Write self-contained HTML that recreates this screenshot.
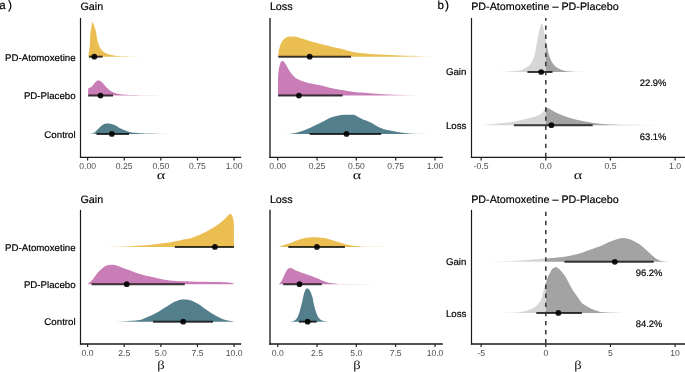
<!DOCTYPE html>
<html><head><meta charset="utf-8"><style>
html,body{margin:0;padding:0;background:#fff;width:685px;height:372px;overflow:hidden}
svg{display:block;will-change:transform}
text{text-rendering:geometricPrecision}
</style></head><body>
<svg width="685" height="372" viewBox="0 0 685 372">
<defs><linearGradient id="g1" gradientUnits="userSpaceOnUse" x1="88.20" y1="0" x2="147.00" y2="0"><stop offset="0.0000" stop-color="#EBBE51" stop-opacity="1.000"/><stop offset="0.4728" stop-color="#EBBE51" stop-opacity="1.000"/><stop offset="0.6310" stop-color="#EBBE51" stop-opacity="0.800"/><stop offset="0.7628" stop-color="#EBBE51" stop-opacity="0.500"/><stop offset="0.8946" stop-color="#EBBE51" stop-opacity="0.200"/><stop offset="1.0000" stop-color="#EBBE51" stop-opacity="0.000"/></linearGradient>
<linearGradient id="g2" gradientUnits="userSpaceOnUse" x1="88.20" y1="0" x2="174.00" y2="0"><stop offset="0.0000" stop-color="#C97DB6" stop-opacity="1.000"/><stop offset="0.4172" stop-color="#C97DB6" stop-opacity="1.000"/><stop offset="0.5921" stop-color="#C97DB6" stop-opacity="0.800"/><stop offset="0.7378" stop-color="#C97DB6" stop-opacity="0.500"/><stop offset="0.8834" stop-color="#C97DB6" stop-opacity="0.200"/><stop offset="1.0000" stop-color="#C97DB6" stop-opacity="0.000"/></linearGradient>
<linearGradient id="g3" gradientUnits="userSpaceOnUse" x1="88.00" y1="0" x2="174.00" y2="0"><stop offset="0.0000" stop-color="#537F8C" stop-opacity="0.000"/><stop offset="0.0209" stop-color="#537F8C" stop-opacity="0.200"/><stop offset="0.0471" stop-color="#537F8C" stop-opacity="0.500"/><stop offset="0.0733" stop-color="#537F8C" stop-opacity="0.800"/><stop offset="0.1047" stop-color="#537F8C" stop-opacity="1.000"/><stop offset="0.5581" stop-color="#537F8C" stop-opacity="1.000"/><stop offset="0.6907" stop-color="#537F8C" stop-opacity="0.800"/><stop offset="0.8012" stop-color="#537F8C" stop-opacity="0.500"/><stop offset="0.9116" stop-color="#537F8C" stop-opacity="0.200"/><stop offset="1.0000" stop-color="#537F8C" stop-opacity="0.000"/></linearGradient>
<linearGradient id="g4" gradientUnits="userSpaceOnUse" x1="278.30" y1="0" x2="436.00" y2="0"><stop offset="0.0000" stop-color="#EBBE51" stop-opacity="1.000"/><stop offset="0.7590" stop-color="#EBBE51" stop-opacity="1.000"/><stop offset="0.8313" stop-color="#EBBE51" stop-opacity="0.800"/><stop offset="0.8916" stop-color="#EBBE51" stop-opacity="0.500"/><stop offset="0.9518" stop-color="#EBBE51" stop-opacity="0.200"/><stop offset="1.0000" stop-color="#EBBE51" stop-opacity="0.000"/></linearGradient>
<linearGradient id="g5" gradientUnits="userSpaceOnUse" x1="278.00" y1="0" x2="424.00" y2="0"><stop offset="0.0000" stop-color="#C97DB6" stop-opacity="1.000"/><stop offset="0.6712" stop-color="#C97DB6" stop-opacity="1.000"/><stop offset="0.7699" stop-color="#C97DB6" stop-opacity="0.800"/><stop offset="0.8521" stop-color="#C97DB6" stop-opacity="0.500"/><stop offset="0.9342" stop-color="#C97DB6" stop-opacity="0.200"/><stop offset="1.0000" stop-color="#C97DB6" stop-opacity="0.000"/></linearGradient>
<linearGradient id="g6" gradientUnits="userSpaceOnUse" x1="283.00" y1="0" x2="432.00" y2="0"><stop offset="0.0000" stop-color="#537F8C" stop-opacity="0.000"/><stop offset="0.0188" stop-color="#537F8C" stop-opacity="0.200"/><stop offset="0.0423" stop-color="#537F8C" stop-opacity="0.500"/><stop offset="0.0658" stop-color="#537F8C" stop-opacity="0.800"/><stop offset="0.0940" stop-color="#537F8C" stop-opacity="1.000"/><stop offset="0.7987" stop-color="#537F8C" stop-opacity="1.000"/><stop offset="0.8591" stop-color="#537F8C" stop-opacity="0.800"/><stop offset="0.9094" stop-color="#537F8C" stop-opacity="0.500"/><stop offset="0.9597" stop-color="#537F8C" stop-opacity="0.200"/><stop offset="1.0000" stop-color="#537F8C" stop-opacity="0.000"/></linearGradient>
<linearGradient id="g7" gradientUnits="userSpaceOnUse" x1="496.00" y1="0" x2="590.00" y2="0"><stop offset="0.0000" stop-color="#D6D6D6" stop-opacity="0.000"/><stop offset="0.0511" stop-color="#D6D6D6" stop-opacity="0.200"/><stop offset="0.1149" stop-color="#D6D6D6" stop-opacity="0.500"/><stop offset="0.1787" stop-color="#D6D6D6" stop-opacity="0.800"/><stop offset="0.2553" stop-color="#D6D6D6" stop-opacity="1.000"/><stop offset="0.5298" stop-color="#D6D6D6" stop-opacity="1.000"/><stop offset="0.5298" stop-color="#A3A3A3" stop-opacity="1.000"/><stop offset="0.7447" stop-color="#A3A3A3" stop-opacity="1.000"/><stop offset="0.8213" stop-color="#A3A3A3" stop-opacity="0.800"/><stop offset="0.8851" stop-color="#A3A3A3" stop-opacity="0.500"/><stop offset="0.9489" stop-color="#A3A3A3" stop-opacity="0.200"/><stop offset="1.0000" stop-color="#A3A3A3" stop-opacity="0.000"/></linearGradient>
<linearGradient id="g8" gradientUnits="userSpaceOnUse" x1="476.00" y1="0" x2="662.00" y2="0"><stop offset="0.0000" stop-color="#D6D6D6" stop-opacity="0.000"/><stop offset="0.0258" stop-color="#D6D6D6" stop-opacity="0.200"/><stop offset="0.0581" stop-color="#D6D6D6" stop-opacity="0.500"/><stop offset="0.0903" stop-color="#D6D6D6" stop-opacity="0.800"/><stop offset="0.1290" stop-color="#D6D6D6" stop-opacity="1.000"/><stop offset="0.3753" stop-color="#D6D6D6" stop-opacity="1.000"/><stop offset="0.3753" stop-color="#A3A3A3" stop-opacity="1.000"/><stop offset="0.6774" stop-color="#A3A3A3" stop-opacity="1.000"/><stop offset="0.7774" stop-color="#A3A3A3" stop-opacity="0.800"/><stop offset="0.8608" stop-color="#A3A3A3" stop-opacity="0.500"/><stop offset="0.9441" stop-color="#A3A3A3" stop-opacity="0.200"/><stop offset="1.0000" stop-color="#A3A3A3" stop-opacity="0.032"/><stop offset="1.0000" stop-color="#A3A3A3" stop-opacity="0.000"/></linearGradient>
<linearGradient id="g9" gradientUnits="userSpaceOnUse" x1="98.00" y1="0" x2="234.00" y2="0"><stop offset="0.0000" stop-color="#EBBE51" stop-opacity="0.000"/><stop offset="0.0618" stop-color="#EBBE51" stop-opacity="0.200"/><stop offset="0.1390" stop-color="#EBBE51" stop-opacity="0.500"/><stop offset="0.2162" stop-color="#EBBE51" stop-opacity="0.800"/><stop offset="0.3088" stop-color="#EBBE51" stop-opacity="1.000"/><stop offset="1.0000" stop-color="#EBBE51" stop-opacity="1.000"/></linearGradient>
<linearGradient id="g10" gradientUnits="userSpaceOnUse" x1="108.00" y1="0" x2="233.50" y2="0"><stop offset="0.0000" stop-color="#537F8C" stop-opacity="0.000"/><stop offset="0.0478" stop-color="#537F8C" stop-opacity="0.200"/><stop offset="0.1076" stop-color="#537F8C" stop-opacity="0.500"/><stop offset="0.1673" stop-color="#537F8C" stop-opacity="0.800"/><stop offset="0.2390" stop-color="#537F8C" stop-opacity="1.000"/><stop offset="1.0000" stop-color="#537F8C" stop-opacity="1.000"/></linearGradient>
<linearGradient id="g11" gradientUnits="userSpaceOnUse" x1="277.50" y1="0" x2="398.00" y2="0"><stop offset="0.0000" stop-color="#EBBE51" stop-opacity="0.000"/><stop offset="0.0108" stop-color="#EBBE51" stop-opacity="0.200"/><stop offset="0.0243" stop-color="#EBBE51" stop-opacity="0.500"/><stop offset="0.0378" stop-color="#EBBE51" stop-opacity="0.800"/><stop offset="0.0539" stop-color="#EBBE51" stop-opacity="1.000"/><stop offset="0.6515" stop-color="#EBBE51" stop-opacity="1.000"/><stop offset="0.7560" stop-color="#EBBE51" stop-opacity="0.800"/><stop offset="0.8432" stop-color="#EBBE51" stop-opacity="0.500"/><stop offset="0.9303" stop-color="#EBBE51" stop-opacity="0.200"/><stop offset="1.0000" stop-color="#EBBE51" stop-opacity="0.000"/></linearGradient>
<linearGradient id="g12" gradientUnits="userSpaceOnUse" x1="278.50" y1="0" x2="380.00" y2="0"><stop offset="0.0000" stop-color="#C97DB6" stop-opacity="1.000"/><stop offset="0.5271" stop-color="#C97DB6" stop-opacity="1.000"/><stop offset="0.6690" stop-color="#C97DB6" stop-opacity="0.800"/><stop offset="0.7872" stop-color="#C97DB6" stop-opacity="0.500"/><stop offset="0.9054" stop-color="#C97DB6" stop-opacity="0.200"/><stop offset="1.0000" stop-color="#C97DB6" stop-opacity="0.000"/></linearGradient>
<linearGradient id="g13" gradientUnits="userSpaceOnUse" x1="286.00" y1="0" x2="336.00" y2="0"><stop offset="0.0000" stop-color="#537F8C" stop-opacity="0.000"/><stop offset="0.0360" stop-color="#537F8C" stop-opacity="0.200"/><stop offset="0.0810" stop-color="#537F8C" stop-opacity="0.500"/><stop offset="0.1260" stop-color="#537F8C" stop-opacity="0.800"/><stop offset="0.1800" stop-color="#537F8C" stop-opacity="1.000"/><stop offset="0.7200" stop-color="#537F8C" stop-opacity="1.000"/><stop offset="0.8040" stop-color="#537F8C" stop-opacity="0.800"/><stop offset="0.8740" stop-color="#537F8C" stop-opacity="0.500"/><stop offset="0.9440" stop-color="#537F8C" stop-opacity="0.200"/><stop offset="1.0000" stop-color="#537F8C" stop-opacity="0.000"/></linearGradient>
<linearGradient id="g14" gradientUnits="userSpaceOnUse" x1="478.00" y1="0" x2="670.00" y2="0"><stop offset="0.0000" stop-color="#D6D6D6" stop-opacity="0.000"/><stop offset="0.0542" stop-color="#D6D6D6" stop-opacity="0.200"/><stop offset="0.1219" stop-color="#D6D6D6" stop-opacity="0.500"/><stop offset="0.1896" stop-color="#D6D6D6" stop-opacity="0.800"/><stop offset="0.2708" stop-color="#D6D6D6" stop-opacity="1.000"/><stop offset="0.3531" stop-color="#D6D6D6" stop-opacity="1.000"/><stop offset="0.3531" stop-color="#A3A3A3" stop-opacity="1.000"/><stop offset="1.0000" stop-color="#A3A3A3" stop-opacity="1.000"/></linearGradient>
<linearGradient id="g15" gradientUnits="userSpaceOnUse" x1="494.00" y1="0" x2="630.00" y2="0"><stop offset="0.0000" stop-color="#D6D6D6" stop-opacity="0.000"/><stop offset="0.0412" stop-color="#D6D6D6" stop-opacity="0.200"/><stop offset="0.0926" stop-color="#D6D6D6" stop-opacity="0.500"/><stop offset="0.1441" stop-color="#D6D6D6" stop-opacity="0.800"/><stop offset="0.2059" stop-color="#D6D6D6" stop-opacity="1.000"/><stop offset="0.3809" stop-color="#D6D6D6" stop-opacity="1.000"/><stop offset="0.3809" stop-color="#A3A3A3" stop-opacity="1.000"/><stop offset="0.7794" stop-color="#A3A3A3" stop-opacity="1.000"/><stop offset="0.8456" stop-color="#A3A3A3" stop-opacity="0.800"/><stop offset="0.9007" stop-color="#A3A3A3" stop-opacity="0.500"/><stop offset="0.9559" stop-color="#A3A3A3" stop-opacity="0.200"/><stop offset="1.0000" stop-color="#A3A3A3" stop-opacity="0.000"/></linearGradient></defs>
<rect width="685" height="372" fill="#fff"/>
<line x1="80.50" y1="17.90" x2="80.50" y2="158.00" stroke="#1a1a1a" stroke-width="1.20"/>
<line x1="79.90" y1="157.40" x2="241.20" y2="157.40" stroke="#1a1a1a" stroke-width="1.20"/>
<line x1="87.60" y1="157.40" x2="87.60" y2="160.50" stroke="#222" stroke-width="1.2"/>
<text x="87.60" y="169.00" font-family="Liberation Sans" font-size="8.60" fill="#4d4d4d" text-anchor="middle" >0.00</text>
<line x1="124.22" y1="157.40" x2="124.22" y2="160.50" stroke="#222" stroke-width="1.2"/>
<text x="124.22" y="169.00" font-family="Liberation Sans" font-size="8.60" fill="#4d4d4d" text-anchor="middle" >0.25</text>
<line x1="160.85" y1="157.40" x2="160.85" y2="160.50" stroke="#222" stroke-width="1.2"/>
<text x="160.85" y="169.00" font-family="Liberation Sans" font-size="8.60" fill="#4d4d4d" text-anchor="middle" >0.50</text>
<line x1="197.47" y1="157.40" x2="197.47" y2="160.50" stroke="#222" stroke-width="1.2"/>
<text x="197.47" y="169.00" font-family="Liberation Sans" font-size="8.60" fill="#4d4d4d" text-anchor="middle" >0.75</text>
<line x1="234.10" y1="157.40" x2="234.10" y2="160.50" stroke="#222" stroke-width="1.2"/>
<text x="234.10" y="169.00" font-family="Liberation Sans" font-size="8.60" fill="#4d4d4d" text-anchor="middle" >1.00</text>
<line x1="270.00" y1="17.90" x2="270.00" y2="158.00" stroke="#1a1a1a" stroke-width="1.35"/>
<line x1="269.32" y1="157.40" x2="442.80" y2="157.40" stroke="#1a1a1a" stroke-width="1.20"/>
<line x1="277.70" y1="157.40" x2="277.70" y2="160.50" stroke="#222" stroke-width="1.2"/>
<text x="277.70" y="169.00" font-family="Liberation Sans" font-size="8.60" fill="#4d4d4d" text-anchor="middle" >0.00</text>
<line x1="317.02" y1="157.40" x2="317.02" y2="160.50" stroke="#222" stroke-width="1.2"/>
<text x="317.02" y="169.00" font-family="Liberation Sans" font-size="8.60" fill="#4d4d4d" text-anchor="middle" >0.25</text>
<line x1="356.35" y1="157.40" x2="356.35" y2="160.50" stroke="#222" stroke-width="1.2"/>
<text x="356.35" y="169.00" font-family="Liberation Sans" font-size="8.60" fill="#4d4d4d" text-anchor="middle" >0.50</text>
<line x1="395.68" y1="157.40" x2="395.68" y2="160.50" stroke="#222" stroke-width="1.2"/>
<text x="395.68" y="169.00" font-family="Liberation Sans" font-size="8.60" fill="#4d4d4d" text-anchor="middle" >0.75</text>
<line x1="435.00" y1="157.40" x2="435.00" y2="160.50" stroke="#222" stroke-width="1.2"/>
<text x="435.00" y="169.00" font-family="Liberation Sans" font-size="8.60" fill="#4d4d4d" text-anchor="middle" >1.00</text>
<line x1="471.50" y1="17.90" x2="471.50" y2="158.00" stroke="#1a1a1a" stroke-width="1.20"/>
<line x1="470.90" y1="157.40" x2="685.00" y2="157.40" stroke="#1a1a1a" stroke-width="1.20"/>
<line x1="481.15" y1="157.40" x2="481.15" y2="160.50" stroke="#222" stroke-width="1.2"/>
<text x="481.15" y="169.00" font-family="Liberation Sans" font-size="8.60" fill="#4d4d4d" text-anchor="middle" >-0.5</text>
<line x1="545.80" y1="157.40" x2="545.80" y2="160.50" stroke="#222" stroke-width="1.2"/>
<text x="545.80" y="169.00" font-family="Liberation Sans" font-size="8.60" fill="#4d4d4d" text-anchor="middle" >0.0</text>
<line x1="610.45" y1="157.40" x2="610.45" y2="160.50" stroke="#222" stroke-width="1.2"/>
<text x="610.45" y="169.00" font-family="Liberation Sans" font-size="8.60" fill="#4d4d4d" text-anchor="middle" >0.5</text>
<line x1="675.10" y1="157.40" x2="675.10" y2="160.50" stroke="#222" stroke-width="1.2"/>
<text x="675.10" y="169.00" font-family="Liberation Sans" font-size="8.60" fill="#4d4d4d" text-anchor="middle" >1.0</text>
<line x1="80.50" y1="209.80" x2="80.50" y2="344.65" stroke="#1a1a1a" stroke-width="1.20"/>
<line x1="79.90" y1="343.95" x2="241.20" y2="343.95" stroke="#1a1a1a" stroke-width="1.40"/>
<line x1="87.60" y1="343.95" x2="87.60" y2="347.05" stroke="#222" stroke-width="1.2"/>
<text x="87.60" y="355.55" font-family="Liberation Sans" font-size="8.60" fill="#4d4d4d" text-anchor="middle" >0.0</text>
<line x1="124.22" y1="343.95" x2="124.22" y2="347.05" stroke="#222" stroke-width="1.2"/>
<text x="124.22" y="355.55" font-family="Liberation Sans" font-size="8.60" fill="#4d4d4d" text-anchor="middle" >2.5</text>
<line x1="160.85" y1="343.95" x2="160.85" y2="347.05" stroke="#222" stroke-width="1.2"/>
<text x="160.85" y="355.55" font-family="Liberation Sans" font-size="8.60" fill="#4d4d4d" text-anchor="middle" >5.0</text>
<line x1="197.47" y1="343.95" x2="197.47" y2="347.05" stroke="#222" stroke-width="1.2"/>
<text x="197.47" y="355.55" font-family="Liberation Sans" font-size="8.60" fill="#4d4d4d" text-anchor="middle" >7.5</text>
<line x1="234.10" y1="343.95" x2="234.10" y2="347.05" stroke="#222" stroke-width="1.2"/>
<text x="234.10" y="355.55" font-family="Liberation Sans" font-size="8.60" fill="#4d4d4d" text-anchor="middle" >10.0</text>
<line x1="270.00" y1="209.80" x2="270.00" y2="344.65" stroke="#1a1a1a" stroke-width="1.35"/>
<line x1="269.32" y1="343.95" x2="442.80" y2="343.95" stroke="#1a1a1a" stroke-width="1.40"/>
<line x1="277.70" y1="343.95" x2="277.70" y2="347.05" stroke="#222" stroke-width="1.2"/>
<text x="277.70" y="355.55" font-family="Liberation Sans" font-size="8.60" fill="#4d4d4d" text-anchor="middle" >0.0</text>
<line x1="317.02" y1="343.95" x2="317.02" y2="347.05" stroke="#222" stroke-width="1.2"/>
<text x="317.02" y="355.55" font-family="Liberation Sans" font-size="8.60" fill="#4d4d4d" text-anchor="middle" >2.5</text>
<line x1="356.35" y1="343.95" x2="356.35" y2="347.05" stroke="#222" stroke-width="1.2"/>
<text x="356.35" y="355.55" font-family="Liberation Sans" font-size="8.60" fill="#4d4d4d" text-anchor="middle" >5.0</text>
<line x1="395.68" y1="343.95" x2="395.68" y2="347.05" stroke="#222" stroke-width="1.2"/>
<text x="395.68" y="355.55" font-family="Liberation Sans" font-size="8.60" fill="#4d4d4d" text-anchor="middle" >7.5</text>
<line x1="435.00" y1="343.95" x2="435.00" y2="347.05" stroke="#222" stroke-width="1.2"/>
<text x="435.00" y="355.55" font-family="Liberation Sans" font-size="8.60" fill="#4d4d4d" text-anchor="middle" >10.0</text>
<line x1="471.50" y1="209.80" x2="471.50" y2="344.65" stroke="#1a1a1a" stroke-width="1.20"/>
<line x1="470.90" y1="343.95" x2="685.00" y2="343.95" stroke="#1a1a1a" stroke-width="1.40"/>
<line x1="481.15" y1="343.95" x2="481.15" y2="347.05" stroke="#222" stroke-width="1.2"/>
<text x="481.15" y="355.55" font-family="Liberation Sans" font-size="8.60" fill="#4d4d4d" text-anchor="middle" >-5</text>
<line x1="545.80" y1="343.95" x2="545.80" y2="347.05" stroke="#222" stroke-width="1.2"/>
<text x="545.80" y="355.55" font-family="Liberation Sans" font-size="8.60" fill="#4d4d4d" text-anchor="middle" >0</text>
<line x1="610.45" y1="343.95" x2="610.45" y2="347.05" stroke="#222" stroke-width="1.2"/>
<text x="610.45" y="355.55" font-family="Liberation Sans" font-size="8.60" fill="#4d4d4d" text-anchor="middle" >5</text>
<line x1="675.10" y1="343.95" x2="675.10" y2="347.05" stroke="#222" stroke-width="1.2"/>
<text x="675.10" y="355.55" font-family="Liberation Sans" font-size="8.60" fill="#4d4d4d" text-anchor="middle" >10</text>
<path d="M88.20 56.70 L88.20 56.70 C88.25 56.43 88.32 56.30 88.50 55.10 C88.68 53.90 89.07 51.35 89.30 49.50 C89.53 47.65 89.75 46.23 89.90 44.00 C90.05 41.77 90.05 38.31 90.20 36.10 C90.35 33.89 90.57 32.53 90.80 30.75 C91.03 28.97 91.32 26.88 91.60 25.40 C91.88 23.92 92.03 21.90 92.45 21.90 C92.87 21.90 93.56 23.92 94.10 25.40 C94.64 26.88 95.26 28.97 95.70 30.75 C96.14 32.53 96.48 34.56 96.75 36.10 C97.02 37.64 97.01 38.68 97.30 40.00 C97.59 41.32 98.12 42.87 98.50 44.00 C98.88 45.13 99.14 45.88 99.60 46.80 C100.06 47.72 100.47 48.58 101.25 49.50 C102.03 50.42 103.24 51.55 104.30 52.30 C105.36 53.05 106.40 53.53 107.60 54.00 C108.80 54.47 109.92 54.78 111.50 55.10 C113.08 55.42 115.02 55.70 117.10 55.90 C119.18 56.10 121.52 56.20 124.00 56.30 C126.48 56.40 128.17 56.43 132.00 56.50 C135.83 56.57 144.50 56.67 147.00 56.70 L147.00 56.70 Z" fill="url(#g1)"/>
<path d="M88.20 95.25 L88.20 95.25 C88.20 94.16 88.00 90.01 88.20 88.70 C88.40 87.39 88.92 87.68 89.40 87.40 C89.88 87.12 90.47 87.48 91.10 87.00 C91.73 86.52 92.51 85.33 93.20 84.50 C93.89 83.67 94.57 82.70 95.25 82.00 C95.93 81.30 96.67 80.60 97.30 80.30 C97.92 80.00 98.37 80.05 99.00 80.20 C99.63 80.35 100.40 80.69 101.10 81.20 C101.80 81.71 102.43 82.42 103.20 83.25 C103.97 84.08 104.87 85.29 105.70 86.20 C106.53 87.11 107.37 87.94 108.20 88.70 C109.03 89.46 109.73 90.13 110.70 90.75 C111.67 91.37 112.62 91.91 114.00 92.40 C115.38 92.89 117.05 93.37 119.00 93.70 C120.95 94.03 123.20 94.23 125.70 94.40 C128.20 94.58 130.78 94.65 134.00 94.75 C137.22 94.85 138.33 94.92 145.00 95.00 C151.67 95.08 169.17 95.21 174.00 95.25 L174.00 95.25 Z" fill="url(#g2)" transform="translate(0 0.30)"/>
<path d="M88.00 133.90 L88.00 133.90 C88.87 133.77 91.78 133.65 93.20 133.10 C94.62 132.55 95.40 131.57 96.50 130.60 C97.60 129.62 98.68 128.27 99.80 127.25 C100.92 126.23 102.08 125.12 103.20 124.50 C104.32 123.88 105.53 123.67 106.50 123.50 C107.47 123.33 108.03 123.38 109.00 123.50 C109.97 123.62 111.18 123.85 112.30 124.20 C113.42 124.55 114.58 125.02 115.70 125.60 C116.82 126.18 117.90 127.08 119.00 127.70 C120.10 128.32 121.18 128.82 122.30 129.30 C123.42 129.78 124.58 130.18 125.70 130.60 C126.82 131.02 127.90 131.47 129.00 131.80 C130.10 132.13 130.92 132.40 132.30 132.60 C133.68 132.80 135.85 132.90 137.30 133.00 C138.75 133.10 138.88 133.12 141.00 133.20 C143.12 133.28 144.50 133.38 150.00 133.50 C155.50 133.62 170.00 133.83 174.00 133.90 L174.00 133.90 Z" fill="url(#g3)"/>
<line x1="89.00" y1="56.70" x2="102.60" y2="56.70" stroke="#000" stroke-opacity="0.76" stroke-width="2.00"/>
<circle cx="94.30" cy="56.70" r="2.85" fill="#000" fill-opacity="0.9"/>
<line x1="88.20" y1="95.55" x2="113.00" y2="95.55" stroke="#000" stroke-opacity="0.76" stroke-width="2.00"/>
<circle cx="100.50" cy="95.55" r="2.85" fill="#000" fill-opacity="0.9"/>
<line x1="96.50" y1="133.90" x2="129.00" y2="133.90" stroke="#000" stroke-opacity="0.76" stroke-width="2.00"/>
<circle cx="111.90" cy="133.90" r="2.85" fill="#000" fill-opacity="0.9"/>
<path d="M278.30 56.70 L278.30 56.70 C278.30 56.60 278.25 56.97 278.30 56.10 C278.35 55.23 278.38 52.95 278.60 51.50 C278.82 50.05 279.18 48.77 279.60 47.40 C280.02 46.03 280.50 44.58 281.10 43.30 C281.70 42.02 282.35 40.68 283.20 39.70 C284.05 38.72 285.02 37.93 286.20 37.40 C287.38 36.87 288.93 36.63 290.30 36.50 C291.67 36.37 293.03 36.45 294.40 36.60 C295.77 36.75 296.97 37.00 298.50 37.40 C300.03 37.80 301.90 38.45 303.60 39.00 C305.30 39.55 306.65 40.07 308.70 40.70 C310.75 41.33 313.35 42.12 315.90 42.80 C318.45 43.48 321.28 44.12 324.00 44.80 C326.72 45.48 329.53 46.30 332.20 46.90 C334.87 47.50 337.48 47.82 340.00 48.40 C342.52 48.98 344.87 49.77 347.30 50.40 C349.73 51.03 352.17 51.73 354.60 52.20 C357.03 52.67 359.33 52.92 361.90 53.20 C364.47 53.48 366.98 53.67 370.00 53.90 C373.02 54.13 376.67 54.40 380.00 54.60 C383.33 54.80 386.67 54.97 390.00 55.10 C393.33 55.23 396.67 55.30 400.00 55.40 C403.33 55.50 406.67 55.60 410.00 55.70 C413.33 55.80 415.67 55.83 420.00 56.00 C424.33 56.17 433.33 56.58 436.00 56.70 L436.00 56.70 Z" fill="url(#g4)"/>
<path d="M278.00 95.25 L278.00 95.25 C278.02 92.09 277.88 81.08 278.10 76.30 C278.32 71.52 278.83 69.02 279.30 66.60 C279.77 64.18 280.37 62.78 280.90 61.80 C281.43 60.82 281.93 60.68 282.50 60.70 C283.07 60.72 283.68 61.25 284.30 61.90 C284.92 62.55 285.62 63.65 286.20 64.60 C286.78 65.55 287.23 66.57 287.80 67.60 C288.37 68.63 288.93 69.78 289.60 70.80 C290.27 71.82 291.07 72.82 291.80 73.70 C292.53 74.58 293.30 75.40 294.00 76.10 C294.70 76.80 295.25 77.37 296.00 77.90 C296.75 78.43 297.63 78.87 298.50 79.30 C299.37 79.73 299.88 80.03 301.20 80.50 C302.52 80.97 304.50 81.62 306.40 82.10 C308.30 82.58 310.30 82.92 312.60 83.40 C314.90 83.88 317.50 84.37 320.20 85.00 C322.90 85.63 325.93 86.53 328.80 87.20 C331.67 87.87 334.32 88.43 337.40 89.00 C340.48 89.57 344.43 90.17 347.30 90.60 C350.17 91.03 352.17 91.32 354.60 91.60 C357.03 91.88 359.75 92.10 361.90 92.30 C364.05 92.50 364.62 92.57 367.50 92.80 C370.38 93.03 375.45 93.47 379.20 93.70 C382.95 93.93 386.53 94.07 390.00 94.20 C393.47 94.33 396.67 94.40 400.00 94.50 C403.33 94.60 406.00 94.67 410.00 94.80 C414.00 94.92 421.67 95.17 424.00 95.25 L424.00 95.25 Z" fill="url(#g5)" transform="translate(0 0.30)"/>
<path d="M283.00 133.90 L283.00 133.90 C284.38 133.82 288.88 133.65 291.30 133.40 C293.72 133.15 295.45 132.88 297.50 132.40 C299.55 131.92 301.57 131.23 303.60 130.50 C305.63 129.77 307.65 128.93 309.70 128.00 C311.75 127.07 313.85 125.92 315.90 124.90 C317.95 123.88 320.48 122.65 322.00 121.90 C323.52 121.15 323.53 121.12 325.00 120.40 C326.47 119.68 328.97 118.32 330.80 117.60 C332.63 116.88 334.53 116.50 336.00 116.10 C337.47 115.70 338.40 115.42 339.60 115.20 C340.80 114.98 341.80 114.88 343.20 114.80 C344.60 114.72 346.42 114.70 348.00 114.70 C349.58 114.70 351.42 114.67 352.70 114.80 C353.98 114.93 354.72 115.10 355.70 115.50 C356.68 115.90 357.38 116.55 358.60 117.20 C359.82 117.85 361.55 118.78 363.00 119.40 C364.45 120.02 365.85 120.30 367.30 120.90 C368.75 121.50 370.42 122.33 371.70 123.00 C372.98 123.67 373.85 124.22 375.00 124.90 C376.15 125.58 376.97 126.32 378.60 127.10 C380.23 127.88 382.87 129.02 384.80 129.60 C386.73 130.18 388.50 130.27 390.20 130.60 C391.90 130.93 393.30 131.30 395.00 131.60 C396.70 131.90 398.65 132.17 400.40 132.40 C402.15 132.63 403.78 132.82 405.50 133.00 C407.22 133.18 408.62 133.38 410.70 133.50 C412.78 133.62 414.45 133.68 418.00 133.75 C421.55 133.82 429.67 133.88 432.00 133.90 L432.00 133.90 Z" fill="url(#g6)"/>
<line x1="278.30" y1="56.70" x2="351.00" y2="56.70" stroke="#000" stroke-opacity="0.76" stroke-width="2.00"/>
<circle cx="309.70" cy="56.70" r="2.85" fill="#000" fill-opacity="0.9"/>
<line x1="278.10" y1="95.55" x2="342.60" y2="95.55" stroke="#000" stroke-opacity="0.76" stroke-width="2.00"/>
<circle cx="298.90" cy="95.55" r="2.85" fill="#000" fill-opacity="0.9"/>
<line x1="309.70" y1="133.90" x2="381.10" y2="133.90" stroke="#000" stroke-opacity="0.76" stroke-width="2.00"/>
<circle cx="346.50" cy="133.90" r="2.85" fill="#000" fill-opacity="0.9"/>
<path d="M496.00 71.50 L496.00 71.50 C497.50 71.43 502.50 71.25 505.00 71.10 C507.50 70.95 509.17 70.75 511.00 70.60 C512.83 70.45 514.25 70.38 516.00 70.20 C517.75 70.02 519.85 69.98 521.50 69.50 C523.15 69.02 524.55 68.15 525.90 67.30 C527.25 66.45 528.48 65.63 529.60 64.40 C530.72 63.17 531.73 61.63 532.60 59.90 C533.47 58.17 534.20 56.30 534.80 54.00 C535.40 51.70 535.73 48.65 536.20 46.10 C536.67 43.55 537.13 41.17 537.60 38.70 C538.07 36.23 538.52 33.52 539.00 31.30 C539.48 29.08 540.05 26.83 540.50 25.40 C540.95 23.97 541.28 22.70 541.70 22.70 C542.12 22.70 542.55 23.72 543.00 25.40 C543.45 27.08 543.92 30.33 544.40 32.80 C544.88 35.27 545.40 37.73 545.90 40.20 C546.40 42.67 546.92 45.30 547.40 47.60 C547.88 49.90 548.18 51.95 548.80 54.00 C549.42 56.05 550.23 58.17 551.10 59.90 C551.97 61.63 552.77 63.03 554.00 64.40 C555.23 65.77 556.77 67.12 558.50 68.10 C560.23 69.08 562.48 69.82 564.40 70.30 C566.32 70.78 567.73 70.83 570.00 71.00 C572.27 71.17 574.67 71.22 578.00 71.30 C581.33 71.38 588.00 71.47 590.00 71.50 L590.00 71.50 Z" fill="url(#g7)" transform="translate(0 0.50)"/>
<path d="M476.00 125.20 L476.00 125.20 C476.70 125.17 477.80 125.20 480.20 125.00 C482.60 124.80 486.98 124.30 490.40 124.00 C493.82 123.70 497.28 123.50 500.70 123.20 C504.12 122.90 507.50 122.70 510.90 122.20 C514.30 121.70 517.70 120.97 521.10 120.20 C524.50 119.43 528.73 118.28 531.30 117.60 C533.87 116.92 534.90 116.72 536.50 116.10 C538.10 115.48 539.68 114.77 540.90 113.90 C542.12 113.03 542.95 111.88 543.80 110.90 C544.65 109.92 545.57 108.55 546.00 108.00 C546.43 107.45 545.80 107.42 546.40 107.60 C547.00 107.78 548.33 108.47 549.60 109.10 C550.87 109.73 552.28 110.55 554.00 111.40 C555.72 112.25 557.95 113.35 559.90 114.20 C561.85 115.05 563.52 115.75 565.70 116.50 C567.88 117.25 570.57 118.05 573.00 118.70 C575.43 119.35 577.87 119.87 580.30 120.40 C582.73 120.93 585.17 121.45 587.60 121.90 C590.03 122.35 592.83 122.78 594.90 123.10 C596.97 123.42 597.32 123.57 600.00 123.80 C602.68 124.03 606.00 124.33 611.00 124.50 C616.00 124.67 621.50 124.73 630.00 124.85 C638.50 124.97 656.67 125.14 662.00 125.20 L662.00 125.20 Z" fill="url(#g8)"/>
<line x1="527.40" y1="72.00" x2="552.50" y2="72.00" stroke="#000" stroke-opacity="0.76" stroke-width="2.00"/>
<circle cx="541.20" cy="72.00" r="2.85" fill="#000" fill-opacity="0.9"/>
<line x1="513.90" y1="125.20" x2="592.70" y2="125.20" stroke="#000" stroke-opacity="0.76" stroke-width="2.00"/>
<circle cx="551.40" cy="125.20" r="2.85" fill="#000" fill-opacity="0.9"/>
<path d="M98.00 246.90 L98.00 246.90 C100.00 246.88 106.95 246.85 110.00 246.80 C113.05 246.75 113.07 246.70 116.30 246.60 C119.53 246.50 125.02 246.37 129.40 246.20 C133.78 246.03 138.22 245.92 142.60 245.60 C146.98 245.28 151.33 244.80 155.70 244.30 C160.07 243.80 165.52 243.10 168.80 242.60 C172.08 242.10 173.40 241.70 175.40 241.30 C177.40 240.90 179.02 240.58 180.80 240.20 C182.58 239.82 184.57 239.30 186.10 239.00 C187.63 238.70 188.45 238.80 190.00 238.40 C191.55 238.00 193.60 237.30 195.40 236.60 C197.20 235.90 199.03 235.02 200.80 234.20 C202.57 233.38 204.22 232.60 206.00 231.70 C207.78 230.80 209.50 230.00 211.50 228.80 C213.50 227.60 216.03 225.93 218.00 224.50 C219.97 223.07 221.70 221.63 223.30 220.20 C224.90 218.77 226.43 216.97 227.60 215.90 C228.77 214.83 229.57 213.87 230.30 213.80 C231.03 213.73 231.53 214.72 232.00 215.50 C232.47 216.28 232.82 217.33 233.10 218.50 C233.38 219.67 233.56 220.92 233.70 222.50 C233.84 224.08 233.90 223.93 233.95 228.00 C234.00 232.07 233.99 243.75 234.00 246.90 L234.00 246.90 Z" fill="url(#g9)"/>
<path d="M87.80 284.15 L87.80 284.15 C87.85 284.07 87.55 284.22 88.10 283.70 C88.65 283.18 90.08 282.05 91.10 281.00 C92.12 279.95 93.17 278.68 94.20 277.40 C95.23 276.12 96.28 274.53 97.30 273.30 C98.32 272.07 99.28 270.98 100.30 270.00 C101.32 269.02 102.37 268.13 103.40 267.40 C104.43 266.67 105.32 266.03 106.50 265.60 C107.68 265.17 109.15 264.88 110.50 264.80 C111.85 264.72 113.23 264.85 114.60 265.10 C115.97 265.35 117.17 265.78 118.70 266.30 C120.23 266.82 122.10 267.58 123.80 268.20 C125.50 268.82 127.20 269.35 128.90 270.00 C130.60 270.65 132.28 271.47 134.00 272.10 C135.72 272.73 137.48 273.27 139.20 273.80 C140.92 274.33 142.50 274.83 144.30 275.30 C146.10 275.77 147.95 276.13 150.00 276.60 C152.05 277.07 154.42 277.62 156.60 278.10 C158.78 278.58 160.92 279.10 163.10 279.50 C165.28 279.90 167.50 280.25 169.70 280.50 C171.90 280.75 174.10 280.87 176.30 281.00 C178.50 281.13 180.72 281.23 182.90 281.30 C185.08 281.37 186.12 281.33 189.40 281.40 C192.68 281.47 198.22 281.58 202.60 281.70 C206.98 281.82 211.98 282.00 215.70 282.10 C219.42 282.20 222.48 282.20 224.90 282.30 C227.32 282.40 228.78 282.52 230.20 282.70 C231.62 282.88 232.85 283.16 233.40 283.40 C233.95 283.64 233.48 284.02 233.50 284.15 L233.50 284.15 Z" fill="#C97DB6"/>
<path d="M108.00 321.10 L108.00 321.10 C110.00 321.05 116.33 320.97 120.00 320.80 C123.67 320.63 126.67 320.35 130.00 320.10 C133.33 319.85 137.37 319.80 140.00 319.30 C142.63 318.80 143.85 317.88 145.80 317.10 C147.75 316.32 149.75 315.50 151.70 314.60 C153.65 313.70 155.55 312.80 157.50 311.70 C159.45 310.60 161.45 309.22 163.40 308.00 C165.35 306.78 167.27 305.57 169.20 304.40 C171.13 303.23 173.30 301.85 175.00 301.00 C176.70 300.15 177.93 299.67 179.40 299.30 C180.87 298.93 182.33 298.83 183.80 298.80 C185.27 298.77 186.73 298.85 188.20 299.10 C189.67 299.35 190.90 299.57 192.60 300.30 C194.30 301.03 196.47 302.28 198.40 303.50 C200.33 304.72 202.25 306.23 204.20 307.60 C206.15 308.97 208.15 310.43 210.10 311.70 C212.05 312.97 213.95 314.13 215.90 315.20 C217.85 316.27 219.85 317.30 221.80 318.10 C223.75 318.90 225.67 319.52 227.60 320.00 C229.53 320.48 232.42 320.82 233.40 321.00 C234.38 321.18 233.48 321.08 233.50 321.10 L233.50 321.10 Z" fill="url(#g10)" transform="translate(0 0.60)"/>
<line x1="174.80" y1="246.90" x2="234.00" y2="246.90" stroke="#000" stroke-opacity="0.76" stroke-width="2.00"/>
<circle cx="214.90" cy="246.90" r="2.85" fill="#000" fill-opacity="0.9"/>
<line x1="91.60" y1="284.15" x2="184.80" y2="284.15" stroke="#000" stroke-opacity="0.76" stroke-width="2.00"/>
<circle cx="126.70" cy="284.15" r="2.85" fill="#000" fill-opacity="0.9"/>
<line x1="153.10" y1="321.70" x2="213.00" y2="321.70" stroke="#000" stroke-opacity="0.76" stroke-width="2.00"/>
<circle cx="183.20" cy="321.70" r="2.85" fill="#000" fill-opacity="0.9"/>
<path d="M277.50 246.90 L277.50 246.90 C277.68 246.82 277.65 246.67 278.60 246.40 C279.55 246.13 281.58 245.73 283.20 245.30 C284.82 244.87 286.60 244.38 288.30 243.80 C290.00 243.22 291.70 242.48 293.40 241.80 C295.10 241.12 296.80 240.30 298.50 239.70 C300.20 239.10 301.90 238.58 303.60 238.20 C305.30 237.82 307.00 237.57 308.70 237.40 C310.40 237.23 312.10 237.20 313.80 237.20 C315.50 237.20 317.20 237.27 318.90 237.40 C320.60 237.53 322.28 237.70 324.00 238.00 C325.72 238.30 327.48 238.75 329.20 239.20 C330.92 239.65 332.48 240.13 334.30 240.70 C336.12 241.27 338.28 242.02 340.10 242.60 C341.92 243.18 343.50 243.75 345.20 244.20 C346.90 244.65 348.60 245.00 350.30 245.30 C352.00 245.60 353.70 245.82 355.40 246.00 C357.10 246.18 358.07 246.28 360.50 246.40 C362.93 246.52 363.75 246.62 370.00 246.70 C376.25 246.78 393.33 246.87 398.00 246.90 L398.00 246.90 Z" fill="url(#g11)"/>
<path d="M278.50 284.15 L278.50 284.15 C278.57 284.14 278.55 284.39 278.90 284.10 C279.25 283.81 279.97 283.28 280.60 282.40 C281.23 281.52 282.02 280.17 282.70 278.80 C283.38 277.43 284.02 275.63 284.70 274.20 C285.38 272.77 286.12 271.18 286.80 270.20 C287.48 269.22 288.22 268.68 288.80 268.30 C289.38 267.92 289.70 267.85 290.30 267.90 C290.90 267.95 291.55 268.22 292.40 268.60 C293.25 268.98 294.05 269.60 295.40 270.20 C296.75 270.80 298.78 271.57 300.50 272.20 C302.22 272.83 303.98 273.40 305.70 274.00 C307.42 274.60 309.10 275.17 310.80 275.80 C312.50 276.43 314.20 277.12 315.90 277.80 C317.60 278.48 319.30 279.22 321.00 279.90 C322.70 280.58 324.40 281.37 326.10 281.90 C327.80 282.43 329.50 282.80 331.20 283.10 C332.90 283.40 334.00 283.54 336.30 283.70 C338.60 283.86 337.72 283.98 345.00 284.05 C352.28 284.12 374.17 284.13 380.00 284.15 L380.00 284.15 Z" fill="url(#g12)"/>
<path d="M286.00 321.10 L286.00 321.10 C286.55 321.10 288.03 321.20 289.30 321.10 C290.57 321.00 292.35 321.05 293.60 320.50 C294.85 319.95 295.90 319.05 296.80 317.80 C297.70 316.55 298.28 315.07 299.00 313.00 C299.72 310.93 300.42 308.10 301.10 305.40 C301.78 302.70 302.53 299.12 303.10 296.80 C303.67 294.48 304.03 292.90 304.50 291.50 C304.97 290.10 305.50 288.98 305.90 288.40 C306.30 287.82 306.57 288.05 306.90 288.00 C307.23 287.95 307.50 287.90 307.90 288.10 C308.30 288.30 308.78 288.48 309.30 289.20 C309.82 289.92 310.42 290.97 311.00 292.40 C311.58 293.83 312.30 295.80 312.80 297.80 C313.30 299.80 313.43 302.05 314.00 304.40 C314.57 306.75 315.48 309.85 316.20 311.90 C316.92 313.95 317.50 315.45 318.30 316.70 C319.10 317.95 319.92 318.73 321.00 319.40 C322.08 320.07 323.27 320.42 324.80 320.70 C326.33 320.98 328.33 320.98 330.20 321.05 C332.07 321.12 335.03 321.09 336.00 321.10 L336.00 321.10 Z" fill="url(#g13)" transform="translate(0 0.60)"/>
<line x1="288.30" y1="246.90" x2="344.90" y2="246.90" stroke="#000" stroke-opacity="0.76" stroke-width="2.00"/>
<circle cx="316.90" cy="246.90" r="2.85" fill="#000" fill-opacity="0.9"/>
<line x1="283.20" y1="284.15" x2="321.80" y2="284.15" stroke="#000" stroke-opacity="0.76" stroke-width="2.00"/>
<circle cx="299.50" cy="284.15" r="2.85" fill="#000" fill-opacity="0.9"/>
<line x1="299.00" y1="321.70" x2="316.70" y2="321.70" stroke="#000" stroke-opacity="0.76" stroke-width="2.00"/>
<circle cx="307.60" cy="321.70" r="2.85" fill="#000" fill-opacity="0.9"/>
<path d="M478.00 261.30 L478.00 261.30 C480.00 261.27 486.33 261.18 490.00 261.10 C493.67 261.02 496.67 260.92 500.00 260.80 C503.33 260.68 506.67 260.55 510.00 260.40 C513.33 260.25 516.50 260.10 520.00 259.90 C523.50 259.70 527.93 259.42 531.00 259.20 C534.07 258.98 536.07 258.80 538.40 258.60 C540.73 258.40 542.57 258.20 545.00 258.00 C547.43 257.80 550.45 257.60 553.00 257.40 C555.55 257.20 557.67 257.13 560.30 256.80 C562.93 256.47 565.93 255.93 568.80 255.40 C571.67 254.87 574.58 254.43 577.50 253.60 C580.42 252.77 583.38 251.43 586.30 250.40 C589.22 249.37 592.38 248.28 595.00 247.40 C597.62 246.52 599.67 246.07 602.00 245.10 C604.33 244.13 606.67 242.62 609.00 241.60 C611.33 240.58 613.67 239.67 616.00 239.00 C618.33 238.33 621.00 237.72 623.00 237.60 C625.00 237.48 626.38 237.90 628.00 238.30 C629.62 238.70 631.28 239.38 632.70 240.00 C634.12 240.62 635.32 241.33 636.50 242.00 C637.68 242.67 638.35 242.93 639.80 244.00 C641.25 245.07 643.42 246.85 645.20 248.40 C646.98 249.95 648.88 251.82 650.50 253.30 C652.12 254.78 653.42 256.18 654.90 257.30 C656.38 258.42 657.92 259.42 659.40 260.00 C660.88 260.58 662.33 260.60 663.80 260.80 C665.27 261.00 667.17 261.12 668.20 261.20 C669.23 261.28 669.70 261.28 670.00 261.30 L670.00 261.30 Z" fill="url(#g14)" transform="translate(0 0.50)"/>
<path d="M494.00 312.90 L494.00 312.90 C495.83 312.87 501.50 312.78 505.00 312.70 C508.50 312.62 512.35 312.53 515.00 312.40 C517.65 312.27 519.07 312.17 520.90 311.90 C522.73 311.63 524.30 311.28 526.00 310.80 C527.70 310.32 529.68 309.58 531.10 309.00 C532.52 308.42 533.48 307.97 534.50 307.30 C535.52 306.63 536.37 305.80 537.20 305.00 C538.03 304.20 538.78 303.50 539.50 302.50 C540.22 301.50 540.73 301.32 541.50 299.00 C542.27 296.68 543.33 291.37 544.10 288.60 C544.87 285.83 545.50 284.28 546.10 282.40 C546.70 280.52 547.02 279.00 547.70 277.30 C548.38 275.60 549.40 273.62 550.20 272.20 C551.00 270.78 551.57 269.68 552.50 268.80 C553.43 267.92 554.85 267.00 555.80 266.90 C556.75 266.80 557.43 267.65 558.20 268.20 C558.97 268.75 559.35 269.02 560.40 270.20 C561.45 271.38 563.30 273.60 564.50 275.30 C565.70 277.00 566.57 278.53 567.60 280.40 C568.63 282.27 569.85 284.90 570.70 286.50 C571.55 288.10 571.78 288.60 572.70 290.00 C573.62 291.40 575.15 293.38 576.20 294.90 C577.25 296.42 578.07 297.77 579.00 299.10 C579.93 300.43 580.63 301.80 581.80 302.90 C582.97 304.00 584.60 304.82 586.00 305.70 C587.40 306.58 588.68 307.43 590.20 308.20 C591.72 308.97 593.47 309.72 595.10 310.30 C596.73 310.88 598.35 311.37 600.00 311.70 C601.65 312.03 603.00 312.15 605.00 312.30 C607.00 312.45 607.83 312.50 612.00 312.60 C616.17 312.70 627.00 312.85 630.00 312.90 L630.00 312.90 Z" fill="url(#g15)"/>
<line x1="564.40" y1="261.80" x2="653.70" y2="261.80" stroke="#000" stroke-opacity="0.76" stroke-width="2.00"/>
<circle cx="614.80" cy="261.80" r="2.85" fill="#000" fill-opacity="0.9"/>
<line x1="536.30" y1="312.90" x2="581.90" y2="312.90" stroke="#000" stroke-opacity="0.76" stroke-width="2.00"/>
<circle cx="558.40" cy="312.90" r="2.85" fill="#000" fill-opacity="0.9"/>
<line x1="545.80" y1="17.90" x2="545.80" y2="157.40" stroke="#333" stroke-width="1.5" stroke-dasharray="4.4 4.7" stroke-dashoffset="1.60"/>
<line x1="545.80" y1="209.80" x2="545.80" y2="343.95" stroke="#333" stroke-width="1.5" stroke-dasharray="4.4 4.7" stroke-dashoffset="7.20"/>
<text x="-0.80" y="8.85" font-family="Liberation Sans" font-size="11.50" fill="#000" text-anchor="start" stroke="#000" stroke-width="0.18" >a</text>
<text x="8.00" y="8.85" font-family="Liberation Sans" font-size="12.00" fill="#000" text-anchor="start" stroke="#000" stroke-width="0.18" >)</text>
<text x="437.60" y="8.85" font-family="Liberation Sans" font-size="11.50" fill="#000" text-anchor="start" stroke="#000" stroke-width="0.18" >b</text>
<text x="445.00" y="9.00" font-family="Liberation Sans" font-size="12.00" fill="#000" text-anchor="start" stroke="#000" stroke-width="0.18" >)</text>
<text x="80.50" y="10.00" font-family="Liberation Sans" font-size="10.75" fill="#000" text-anchor="start" stroke="#000" stroke-width="0.18" >Gain</text>
<text x="269.90" y="10.00" font-family="Liberation Sans" font-size="10.75" fill="#000" text-anchor="start" stroke="#000" stroke-width="0.18" >Loss</text>
<text x="471.20" y="10.00" font-family="Liberation Sans" font-size="10.75" fill="#000" text-anchor="start" stroke="#000" stroke-width="0.18" >PD-Atomoxetine – PD-Placebo</text>
<text x="80.50" y="202.70" font-family="Liberation Sans" font-size="10.75" fill="#000" text-anchor="start" stroke="#000" stroke-width="0.18" >Gain</text>
<text x="269.90" y="202.70" font-family="Liberation Sans" font-size="10.75" fill="#000" text-anchor="start" stroke="#000" stroke-width="0.18" >Loss</text>
<text x="471.20" y="202.70" font-family="Liberation Sans" font-size="10.75" fill="#000" text-anchor="start" stroke="#000" stroke-width="0.18" >PD-Atomoxetine – PD-Placebo</text>
<text x="75.60" y="60.50" font-family="Liberation Sans" font-size="9.70" fill="#000" text-anchor="end" stroke="#000" stroke-width="0.18" >PD-Atomoxetine</text>
<text x="75.60" y="99.05" font-family="Liberation Sans" font-size="9.70" fill="#000" text-anchor="end" stroke="#000" stroke-width="0.18" >PD-Placebo</text>
<text x="75.60" y="137.70" font-family="Liberation Sans" font-size="9.70" fill="#000" text-anchor="end" stroke="#000" stroke-width="0.18" >Control</text>
<text x="75.60" y="250.70" font-family="Liberation Sans" font-size="9.70" fill="#000" text-anchor="end" stroke="#000" stroke-width="0.18" >PD-Atomoxetine</text>
<text x="75.60" y="287.95" font-family="Liberation Sans" font-size="9.70" fill="#000" text-anchor="end" stroke="#000" stroke-width="0.18" >PD-Placebo</text>
<text x="75.60" y="324.90" font-family="Liberation Sans" font-size="9.70" fill="#000" text-anchor="end" stroke="#000" stroke-width="0.18" >Control</text>
<text x="466.40" y="75.00" font-family="Liberation Sans" font-size="9.70" fill="#000" text-anchor="end" stroke="#000" stroke-width="0.18" >Gain</text>
<text x="466.40" y="128.70" font-family="Liberation Sans" font-size="9.70" fill="#000" text-anchor="end" stroke="#000" stroke-width="0.18" >Loss</text>
<text x="466.40" y="265.20" font-family="Liberation Sans" font-size="9.70" fill="#000" text-anchor="end" stroke="#000" stroke-width="0.18" >Gain</text>
<text x="466.40" y="317.00" font-family="Liberation Sans" font-size="9.70" fill="#000" text-anchor="end" stroke="#000" stroke-width="0.18" >Loss</text>
<text x="666.50" y="86.20" font-family="Liberation Sans" font-size="9.45" fill="#000" text-anchor="end" stroke="#000" stroke-width="0.18" >22.9%</text>
<text x="666.50" y="139.90" font-family="Liberation Sans" font-size="9.45" fill="#000" text-anchor="end" stroke="#000" stroke-width="0.18" >63.1%</text>
<text x="662.50" y="275.70" font-family="Liberation Sans" font-size="9.45" fill="#000" text-anchor="end" stroke="#000" stroke-width="0.18" >96.2%</text>
<text x="662.50" y="327.00" font-family="Liberation Sans" font-size="9.45" fill="#000" text-anchor="end" stroke="#000" stroke-width="0.18" >84.2%</text>
<text transform="translate(161.00 179.2) scale(1.3 1)" font-family="Liberation Serif" font-size="12.4" text-anchor="middle" fill="#111">α</text>
<text transform="translate(357.00 179.2) scale(1.3 1)" font-family="Liberation Serif" font-size="12.4" text-anchor="middle" fill="#111">α</text>
<text transform="translate(578.00 179.2) scale(1.3 1)" font-family="Liberation Serif" font-size="12.4" text-anchor="middle" fill="#111">α</text>
<text transform="translate(161.00 369.1) scale(1.2 1)" font-family="Liberation Serif" font-size="12.1" text-anchor="middle" fill="#111">β</text>
<text transform="translate(357.00 369.1) scale(1.2 1)" font-family="Liberation Serif" font-size="12.1" text-anchor="middle" fill="#111">β</text>
<text transform="translate(578.00 369.1) scale(1.2 1)" font-family="Liberation Serif" font-size="12.1" text-anchor="middle" fill="#111">β</text>
</svg>
</body></html>
